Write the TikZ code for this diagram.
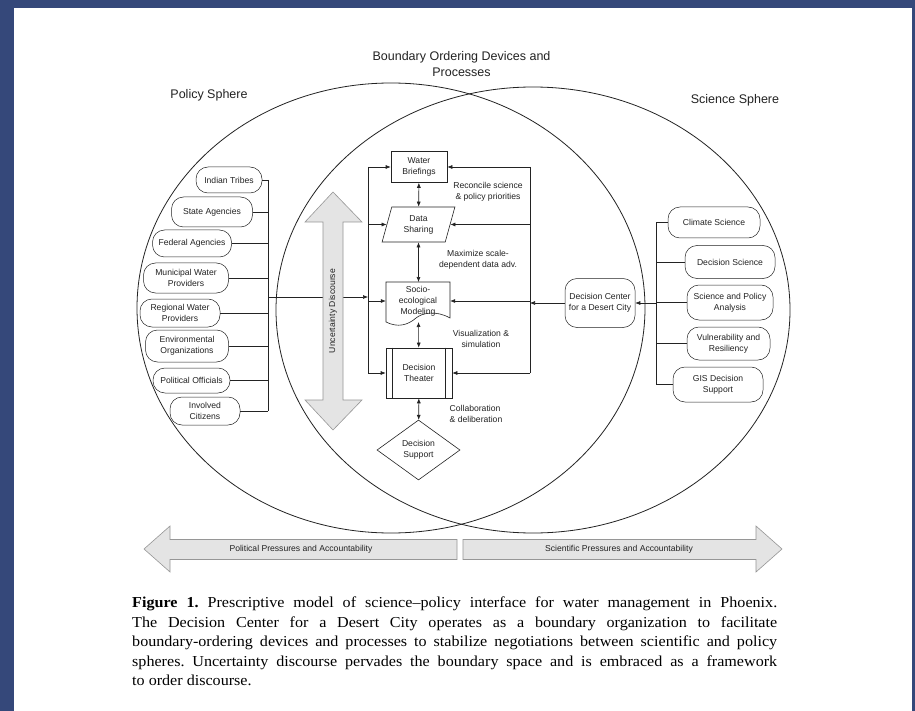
\documentclass[tikz,border=0pt]{standalone}
\usepackage{fontspec}
\setmainfont[FakeStretch=1.06]{Liberation Serif}
\setsansfont{Liberation Sans}
\usetikzlibrary{arrows.meta,shapes.geometric,calc}
\definecolor{navy}{RGB}{53,72,122}
\definecolor{ink}{RGB}{35,35,35}
\definecolor{afill}{RGB}{228,228,228}
\definecolor{aline}{RGB}{150,150,150}
\begin{document}
\begin{tikzpicture}[x=1pt,y=-1pt,
  every node/.style={font=\sffamily\fontsize{8.6}{11}\selectfont, text=ink, align=center, inner sep=0pt},
  big/.style={font=\sffamily\fontsize{12.5}{16}\selectfont},
  conn/.style={draw=ink, line width=0.6pt},
  arr/.style={conn, -{Latex[length=5pt,width=4pt]}},
  darr/.style={conn, {Latex[length=5pt,width=4pt]}-{Latex[length=5pt,width=4pt]}},
  pill/.style={draw=ink, line width=0.5pt, rounded corners=12pt},
  rectbox/.style={draw=ink, line width=0.6pt},
  sphere/.style={draw=ink, line width=0.8pt},
  block/.style={fill=afill, draw=aline, line width=0.6pt, line join=miter}
]
\useasboundingbox (0,0) rectangle (915,711);
\fill[navy] (0,0) rectangle (915,711);
\fill[white] (14,8) rectangle (912,711);

% spheres
\draw[sphere] (391,308) ellipse [x radius=254, y radius=225];
\draw[sphere] (533,310) ellipse [x radius=257, y radius=223];

\node[big] (title) at (461.5,64) {Boundary Ordering Devices and\\Processes};
\node[big] (ps) at (209,95) {Policy Sphere};
\node[big] (ss) at (735,100) {Science Sphere};

% left boxes
\node[pill, minimum width=66, minimum height=26] (it) at (229,180) {Indian Tribes};
\node[pill, minimum width=81, minimum height=30] (sa) at (212,212) {State Agencies};
\node[pill, minimum width=79, minimum height=27] (fa) at (192,243.5) {Federal Agencies};
\node[pill, minimum width=85, minimum height=30] (mw) at (186,278) {Municipal Water\\Providers};
\node[pill, minimum width=80, minimum height=28] (rw) at (180,313) {Regional Water\\Providers};
\node[pill, minimum width=83, minimum height=32] (eo) at (187,346) {Environmental\\Organizations};
\node[pill, minimum width=77, minimum height=25] (po) at (191.5,380.5) {Political Officials};
\node[pill, minimum width=70, minimum height=28] (ic) at (205,411) {Involved\\Citizens};

\coordinate (lbT) at (268,180);
\coordinate (lbB) at (268,411);
\coordinate (lbM) at (268,297);
\draw[conn] (lbT) -- (lbB);
\foreach \n in {it,sa,fa,mw,rw,eo,po,ic} \draw[conn] (\n.east) -- (\n.east -| lbT);

% center vertical loops
\coordinate (lvT) at (368,167);
\coordinate (lvB) at (368,373);
\coordinate (lvM) at (368,297);
\coordinate (rvT) at (530,167);
\coordinate (rvB) at (530,373);
\coordinate (rvM) at (530,303);
\draw[conn] (lvT) -- (lvB);
\draw[conn] (rvT) -- (rvB);
\draw[arr] (lbM) -- (lvM);

% uncertainty discourse arrow
\draw[block] (333,192) -- (362,222) -- (343,222) -- (343,400) -- (362,400) -- (333,430)
  -- (305,400) -- (323,400) -- (323,222) -- (305,222) -- cycle;
\node[rotate=90] (ud) at (333,311) {Uncertainty Discourse};

% center nodes
\node[rectbox, minimum width=56, minimum height=31] (wb) at (419,167) {Water\\Briefings};
\node[rectbox, trapezium, trapezium left angle=74, trapezium right angle=106, trapezium stretches=true,
  minimum width=73, minimum height=35] (ds) at (418.5,224.5) {Data\\Sharing};
\node[minimum width=64, minimum height=42] (sem) at (418,301) {Socio-\\ecological\\Modeling};
\draw[conn] (386,322) -- (386,282) -- (450,282) -- (450,318)
  .. controls (436,310) and (422,313) .. (416,318)
  .. controls (408,325) and (398,328) .. (386,322);
\node[rectbox, minimum width=66, minimum height=50] (dt) at (419,373) {Decision\\Theater};
\draw[conn] ($(dt.north west)+(7,0)$) -- ($(dt.south west)+(7,0)$);
\draw[conn] ($(dt.north east)+(-7,0)$) -- ($(dt.south east)+(-7,0)$);
\node[rectbox, diamond, aspect=1.4, minimum width=83, minimum height=60] (dsup) at (418.5,450) {Decision\\Support};

\draw[darr] (wb) -- (ds);
\draw[darr] (ds) -- (418.5,282);
\draw[darr] (418.5,322) -- (dt);
\draw[darr] (dt) -- (dsup);

\draw[arr] (lvT) -- (wb.west);
\draw[arr] (ds.west -| lvT) -- (ds.west);
\draw[arr] (sem.west -| lvT) -- (sem.west);
\draw[arr] (lvB) -- (dt.west);
\draw[arr] (rvT) -- (wb.east);
\draw[arr] (ds.east -| rvT) -- (ds.east);
\draw[arr] (sem.east -| rvT) -- (sem.east);
\draw[arr] (rvB) -- (dt.east);

\node (lab1) at (488,192) {Reconcile science\\\& policy priorities};
\node (lab2) at (478,260) {Maximize scale-\\dependent data adv.};
\node (lab3) at (481,339) {Visualization \&\\simulation};
\node[align=left] (lab4) at (476,414) {Collaboration\\\& deliberation};

% right side
\node[pill, minimum width=70, minimum height=49] (dc) at (600,303) {Decision Center\\for a Desert City};
\node[pill, minimum width=92, minimum height=31] (cs) at (714,222.5) {Climate Science};
\node[pill, minimum width=90, minimum height=33] (dsc) at (730,262) {Decision Science};
\node[pill, minimum width=86, minimum height=35] (spa) at (730,302.5) {Science and Policy\\Analysis};
\node[pill, minimum width=83, minimum height=33] (vr) at (728.5,343.5) {Vulnerability and\\Resiliency};
\node[pill, minimum width=90, minimum height=35] (gis) at (718,384.5) {GIS Decision\\Support};
\coordinate (rbT) at (656,222.5);
\coordinate (rbB) at (656,384.5);
\coordinate (rbM) at (656,303);
\draw[conn] (rbT) -- (rbB);
\foreach \n in {cs,dsc,spa,vr,gis} \draw[conn] (\n.west) -- (\n.west -| rbT);
\draw[arr] (rbM) -- (dc.east);
\draw[arr] (dc.west) -- (rvM);

% bottom pressure arrows
\draw[block] (144,549) -- (170,526) -- (170,539.5) -- (457,539.5) -- (457,559.5) -- (170,559.5) -- (170,572) -- cycle;
\draw[block] (782,549) -- (756,526) -- (756,539.5) -- (463,539.5) -- (463,559.5) -- (756,559.5) -- (756,572) -- cycle;
\node (pp) at (301,549.5) {Political Pressures and Accountability};
\node (sp) at (619,549.5) {Scientific Pressures and Accountability};

% caption
\node[anchor=north west, text width=645, align=justify, font=\rmfamily\fontsize{15.2}{19.5}\selectfont, text=black] (cap) at (132,597)
{\frenchspacing\textbf{Figure 1.} Prescriptive model of science--policy interface for water management in Phoenix.\linebreak
The Decision Center for a Desert City operates as a boundary organization to facilitate\linebreak
boundary-ordering devices and processes to stabilize negotiations between scientific and policy\linebreak
spheres. Uncertainty discourse pervades the boundary space and is embraced as a framework\linebreak
to order discourse.};
\end{tikzpicture}
\end{document}
